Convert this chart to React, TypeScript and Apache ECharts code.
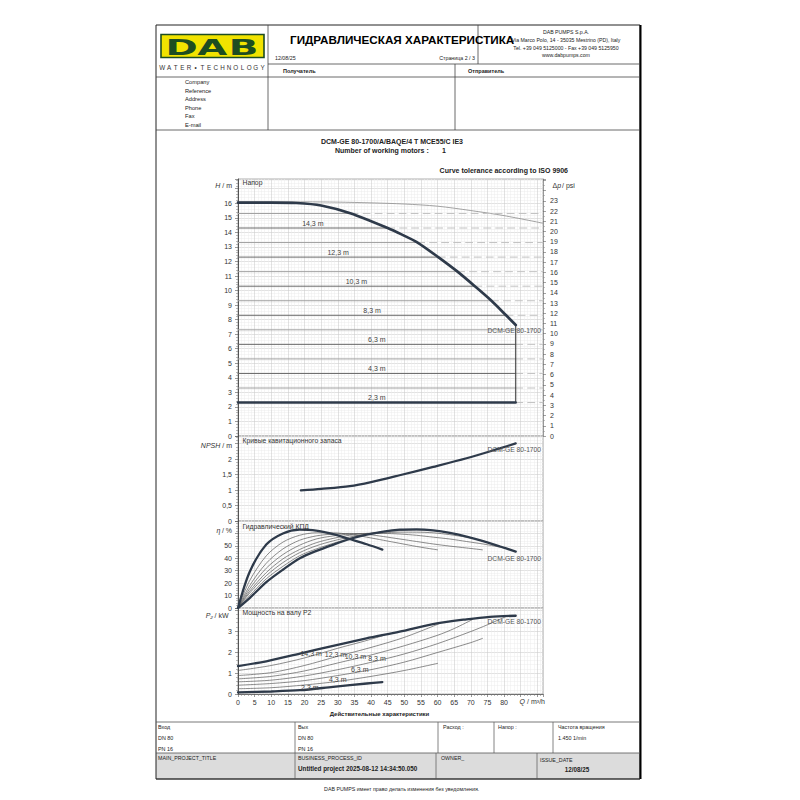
import React, { useEffect, useRef } from "react";
import * as echarts from "echarts";

// ---------------- data ----------------
// Constant-pressure set points (m) and the flow where each meets the pump limit
const levels = [15.3, 14.3, 13.3, 12.3, 11.3, 10.3, 9.3, 8.3, 7.3, 6.3, 5.3, 4.3, 3.3, 2.3];
const levelEndQ = [34, 45, 54, 60.2, 66, 71.2, 76.2, 80.6, 83.5, 83.5, 83.5, 83.5, 83.5, 83.5];
const labelledLevels = [14.3, 12.3, 10.3, 8.3, 6.3, 4.3, 2.3];

// Max-speed head curve
const headQ = [0, 10, 17.5, 25, 34, 45, 49, 54, 60.2, 66, 71.2, 76.2, 80.6, 83.5];
const headH = [16.05, 16.05, 16.02, 15.85, 15.3, 14.3, 13.88, 13.3, 12.3, 11.3, 10.3, 9.3, 8.3, 7.63];
const minHead = 2.3;
// Thin reference head curve
const refQ = [0, 20, 30, 40, 50, 60, 70, 80, 91.7];
const refH = [16.1, 16.1, 16.08, 16.03, 15.95, 15.8, 15.5, 15.15, 14.63];

// NPSH
const npshQ = [18.9, 25, 33.6, 40, 48.6, 58.7, 68.7, 78.7, 83.5];
const npshV = [0.99, 1.04, 1.13, 1.26, 1.48, 1.75, 2.03, 2.35, 2.51];

// Efficiency (%)
const effMaxQ = [0, 3.5, 8.6, 13.6, 18.6, 23.6, 28.7, 33.7, 38.7, 43.7, 48.7, 53.7, 58.7, 63.7, 68.7, 73.7, 78.8, 83.5];
const effMax = [0, 8, 21, 31, 40, 46, 51, 55.5, 59, 61.5, 63, 63.3, 62.5, 60.5, 57.5, 53.8, 49.5, 45.4];
const effMinQ = [0, 3.5, 8.5, 13.5, 18.5, 23.5, 28.6, 33.5, 38.7, 43.4];
const effMin = [0, 29, 51, 60, 63, 62.3, 59.4, 55.5, 51.3, 47];
const eff4Q = [0, 3.5, 8.5, 13.5, 18.5, 23.5, 28.6, 33.5, 38.7, 43.7, 48.7, 53.7, 58.7, 60];
const eff4 = [0, 22, 42, 53, 58.5, 60.5, 60.5, 59.3, 57, 54.5, 52, 49.5, 47.3, 46.8];
const eff6Q = [0, 3.5, 8.5, 13.5, 18.5, 23.5, 28.6, 33.5, 38.7, 43.7, 48.7, 53.7, 58.7, 63.7, 68.7, 73.5];
const eff6 = [0, 18, 36, 47.5, 54.5, 58, 59.5, 60, 59.3, 57.5, 55.5, 53.5, 51.5, 49.8, 48.3, 46.8];
const eff8Q = [0, 3.5, 8.5, 13.5, 18.5, 23.5, 28.6, 33.5, 38.7, 43.7, 48.7, 53.7, 58.7, 63.7, 68.7, 73.7, 78.8, 80.7];
const eff8 = [0, 15.5, 32, 43, 50.5, 55.5, 58, 59.5, 60, 60, 59.5, 58.5, 57, 55.5, 53.5, 51.5, 49, 48];
const eff10Q = [0, 3.5, 8.5, 13.5, 18.5, 23.5, 28.6, 33.5, 38.7, 43.7, 48.7, 53.7, 58.7, 63.7, 68.7, 70.5];
const eff10 = [0, 13.5, 28.5, 39.5, 47, 52.5, 56, 58.5, 60, 60.5, 61, 61, 60.5, 59, 57, 56.2];
const eff12Q = [0, 3.5, 8.5, 13.5, 18.5, 23.5, 28.6, 33.5, 38.7, 43.7, 48.7, 53.7, 58.7, 60.5];
const eff12 = [0, 12, 26, 36.5, 44.5, 50, 54, 57, 59.5, 61.2, 62.3, 62.8, 62.3, 62];
const eff14Q = [0, 3.5, 8.5, 13.5, 18.5, 23.5, 28.6, 33.5, 38.7, 44];
const eff14 = [0, 10, 23.5, 33.5, 42, 47.5, 52, 56, 59.3, 61.5];

// Shaft power P2 (kW)
const powMaxQ = [0, 8.5, 18.6, 28.6, 38.6, 48.6, 58.6, 68.7, 75.7, 83.5];
const powMax = [1.33, 1.56, 1.93, 2.3, 2.65, 2.97, 3.33, 3.56, 3.68, 3.73];
const powMinQ = [0, 10, 18.6, 28.6, 38.7, 43.4];
const powMin = [0.08, 0.12, 0.18, 0.34, 0.5, 0.57];
const pow4Q = [0, 10, 20, 30, 40, 50, 60];
const pow4 = [0.25, 0.3, 0.43, 0.6, 0.84, 1.12, 1.46];
const pow6Q = [0, 10, 20, 30, 40, 50, 60, 70, 73.5];
const pow6 = [0.42, 0.5, 0.64, 0.88, 1.16, 1.52, 1.98, 2.45, 2.65];
const pow8Q = [0, 10, 20, 30, 40, 50, 60, 70, 75, 80.7];
const pow8 = [0.58, 0.66, 0.86, 1.16, 1.51, 1.91, 2.4, 2.98, 3.3, 3.7];
const pow10Q = [0, 10, 20, 30, 40, 50, 60, 65, 70.5];
const pow10 = [0.72, 0.84, 1.1, 1.48, 1.86, 2.3, 2.8, 3.12, 3.55];
const pow12Q = [0, 10, 20, 30, 40, 50, 60.5];
const pow12 = [0.88, 1.02, 1.36, 1.8, 2.22, 2.7, 3.35];
const pow14Q = [0, 10, 20, 30, 38, 44];
const pow14 = [1.12, 1.36, 1.72, 2.18, 2.52, 2.8];
// Where the set-point labels sit along the power curves (Q)
const powLabelQ = [22, 29.3, 35.3, 41.8, 36.6, 30, 21.6];

// Axis ranges
const qMax = 91.7;
const hMax = 17.67;
const psiMax = 25.13;
const npshMax = 2.75;
const effAxisMax = 70;
const powAxisMax = 4.1;

// ---------------- helpers ----------------
const FF = "'Liberation Sans', Arial, sans-serif";
const DARK = "#2e3a4a";
const LABEL_GREY = "#444444";
const zip = (a: number[], b: number[]) => a.map((x, i) => [x, b[i]]);
const fmt = (v: number) => String(Math.round(v * 100) / 100).replace(".", ",");
function interp(xs: number[], ys: number[], x: number) {
  for (let i = 1; i < xs.length; i++) {
    if (x <= xs[i]) {
      const t = (x - xs[i - 1]) / (xs[i] - xs[i - 1]);
      return ys[i - 1] + t * (ys[i] - ys[i - 1]);
    }
  }
  return ys[ys.length - 1];
}

function T(text: string, x: number, y: number, o: any = {}) {
  const size = o.size ?? 5.5;
  const font = `${o.italic ? "italic " : ""}${o.bold ? "bold " : ""}${size}px ${FF}`;
  return {
    type: "text",
    x,
    y,
    silent: true,
    scaleX: o.scaleX ?? 1,
    z: o.z ?? 10,
    style: {
      text,
      font,
      fill: o.color ?? "#222",
      textAlign: o.align ?? "left",
      textVerticalAlign: "middle",
    },
  };
}
function L(x1: number, y1: number, x2: number, y2: number, color = "#444", w = 0.8) {
  return { type: "line", silent: true, z: 5, shape: { x1, y1, x2, y2 }, style: { stroke: color, lineWidth: w } };
}

function lineSeries(xi: number, yi: number, data: number[][], color: string, width: number, extra: any = {}) {
  return {
    type: "line",
    xAxisIndex: xi,
    yAxisIndex: yi,
    data,
    symbol: "none",
    silent: true,
    smooth: extra.smooth ?? 0.3,
    z: extra.z ?? 3,
    lineStyle: { color, width, type: extra.dash ?? "solid", cap: "round" },
  };
}

function labelSeries(xi: number, yi: number, data: any[], dy: number) {
  return {
    type: "scatter",
    xAxisIndex: xi,
    yAxisIndex: yi,
    symbolSize: 0.1,
    silent: true,
    color: LABEL_GREY,
    itemStyle: { color: LABEL_GREY, opacity: 0 },
    z: 8,
    data,
    label: {
      show: true,
      position: "top",
      distance: 0,
      offset: [0, dy],
      fontFamily: FF,
      fontSize: 7,
      color: LABEL_GREY,
      opacity: 1,
      formatter: (p: any) => p.name,
    },
  };
}

function buildOption() {
  const gridBase = { left: 238, width: 305, show: true, borderColor: "#9a9a9a", borderWidth: 0.8 };
  const grid = [
    { ...gridBase, top: 179, height: 257 },
    { ...gridBase, top: 436, height: 85 },
    { ...gridBase, top: 521, height: 87 },
    { ...gridBase, top: 608, height: 86 },
  ];
  const axisFont = { fontFamily: FF, fontSize: 7, color: "#333" };
  const xAxis = grid.map((_, i) => ({
    gridIndex: i,
    type: "value",
    min: 0,
    max: qMax,
    interval: 5,
    axisLine: { show: i === 3, lineStyle: { color: "#555", width: 0.8 } },
    axisTick: { show: i === 3, length: 3, lineStyle: { color: "#555", width: 0.6 } },
    minorTick: { show: i === 3, splitNumber: 5, length: 2, lineStyle: { color: "#777", width: 0.5 } },
    axisLabel: { show: i === 3, ...axisFont, margin: 5, formatter: (v: number) => (v <= 80 ? String(v) : "") },
    splitLine: { show: true, lineStyle: { color: "#cfcfcf", width: 0.6 } },
    minorSplitLine: { show: true, lineStyle: { color: "#ececec", width: 0.5 } },
  }));
  const yBase = (gi: number, max: number, interval: number, limit: number, minorSplit: number) => ({
    gridIndex: gi,
    type: "value",
    min: 0,
    max,
    interval,
    axisLine: { show: true, lineStyle: { color: "#444", width: 0.9 } },
    axisTick: { show: true, length: 3, lineStyle: { color: "#555", width: 0.6 } },
    minorTick: { show: true, splitNumber: minorSplit, length: 2, lineStyle: { color: "#777", width: 0.5 } },
    axisLabel: { ...axisFont, margin: 6, formatter: (v: number) => (v <= limit + 1e-6 ? fmt(v) : "") },
    splitLine: { show: true, lineStyle: { color: "#cfcfcf", width: 0.6 } },
    minorSplitLine: { show: true, lineStyle: { color: "#ececec", width: 0.5 } },
  });
  const yAxis: any[] = [
    yBase(0, hMax, 1, 16, 5),
    {
      gridIndex: 0,
      type: "value",
      position: "right",
      min: 0,
      max: psiMax,
      interval: 1,
      axisLine: { show: true, lineStyle: { color: "#888", width: 0.8 } },
      axisTick: { show: true, length: 3, lineStyle: { color: "#666", width: 0.6 } },
      minorTick: { show: true, splitNumber: 2, length: 2, lineStyle: { color: "#888", width: 0.5 } },
      axisLabel: { ...axisFont, margin: 7, formatter: (v: number) => (v <= 23.001 ? String(v) : "") },
      splitLine: { show: false },
    },
    yBase(1, npshMax, 0.5, 2, 5),
    yBase(2, effAxisMax, 10, 50, 5),
    yBase(3, powAxisMax, 1, 3, 5),
  ];

  const series: any[] = [];
  // --- head panel ---
  series.push(lineSeries(0, 0, zip(refQ, refH), "#8c8c8c", 0.8));
  levels.forEach((l, i) => {
    const labelled = labelledLevels.indexOf(l) >= 0;
    const isMin = l === minHead;
    series.push(
      lineSeries(0, 0, [[0, l], [levelEndQ[i], l]], isMin ? DARK : labelled ? "#6a6a6a" : "#a0a0a0", isMin ? 2.4 : 1, {
        smooth: false,
        z: isMin ? 6 : 3,
      })
    );
    series.push(lineSeries(0, 0, [[levelEndQ[i], l], [qMax, l]], "#c2c2c2", 1, { smooth: false, dash: [7, 5] }));
  });
  series.push(lineSeries(0, 0, zip(headQ, headH), DARK, 2.7, { smooth: 0.25, z: 6 }));
  const lastQ = headQ[headQ.length - 1];
  series.push(
    lineSeries(0, 0, [[lastQ, headH[headH.length - 1]], [lastQ, minHead]], "#3c3c3c", 1.1, { smooth: false, z: 5 })
  );
  series.push(
    labelSeries(
      0,
      0,
      labelledLevels.map((l) => {
        const i = levels.indexOf(l);
        return { name: fmt(l) + " m", value: [levelEndQ[i] / 2, l] };
      }),
      -1
    )
  );

  // --- NPSH ---
  series.push(lineSeries(1, 2, zip(npshQ, npshV), DARK, 2.2, { z: 6 }));

  // --- efficiency ---
  const effThin: [number[], number[]][] = [
    [eff4Q, eff4],
    [eff6Q, eff6],
    [eff8Q, eff8],
    [eff10Q, eff10],
    [eff12Q, eff12],
    [eff14Q, eff14],
  ];
  effThin.forEach(([q, v]) => series.push(lineSeries(2, 3, zip(q, v), "#5a5a5a", 0.7)));
  series.push(lineSeries(2, 3, zip(effMinQ, effMin), DARK, 2.3, { z: 6 }));
  series.push(lineSeries(2, 3, zip(effMaxQ, effMax), DARK, 2.3, { z: 6 }));

  // --- power ---
  const powCurves: Record<string, [number[], number[]]> = {
    "14.3": [pow14Q, pow14],
    "12.3": [pow12Q, pow12],
    "10.3": [pow10Q, pow10],
    "8.3": [pow8Q, pow8],
    "6.3": [pow6Q, pow6],
    "4.3": [pow4Q, pow4],
    "2.3": [powMinQ, powMin],
  };
  ["14.3", "12.3", "10.3", "8.3", "6.3", "4.3"].forEach((k) =>
    series.push(lineSeries(3, 4, zip(powCurves[k][0], powCurves[k][1]), "#5a5a5a", 0.7))
  );
  series.push(lineSeries(3, 4, zip(powMinQ, powMin), DARK, 2.3, { z: 6 }));
  series.push(lineSeries(3, 4, zip(powMaxQ, powMax), DARK, 2.3, { z: 6 }));
  series.push(
    labelSeries(
      3,
      4,
      labelledLevels.map((l, i) => {
        const [q, v] = powCurves[String(l)];
        return { name: fmt(l) + " m", value: [powLabelQ[i], interp(q, v, powLabelQ[i])] };
      }),
      1.5
    )
  );

  // ---------------- page furniture ----------------
  const g: any[] = [];
  g.push({ type: "rect", silent: true, z: 1, shape: { x: 156, y: 753, width: 484, height: 26 }, style: { fill: "#dcdcdc" } });
  g.push({ type: "rect", silent: true, z: 5, shape: { x: 156, y: 25, width: 484, height: 754 }, style: { fill: "none", stroke: "#222", lineWidth: 1 } });
  g.push(L(640.5, 25, 640.5, 779, "#000", 2));
  g.push(L(268, 25, 268, 130));
  g.push(L(478, 25, 478, 64));
  g.push(L(268, 64, 640, 64));
  g.push(L(156, 77, 640, 77));
  g.push(L(455, 64, 455, 130));
  g.push(L(156, 130, 640, 130));
  g.push(L(156, 722, 640, 722, "#555"));
  [295, 438, 494, 553].forEach((x) => g.push(L(x, 722, x, 753, "#666")));
  g.push(L(156, 753, 640, 753, "#555"));
  [295, 436, 537].forEach((x) => g.push(L(x, 753, x, 779, "#666")));
  g.push(L(156, 779, 640, 779, "#333"));

  // logo
  g.push({ type: "rect", silent: true, z: 6, shape: { x: 161, y: 34.5, width: 103, height: 23 }, style: { fill: "#f1e300", stroke: "#1d4d21", lineWidth: 1.6 } });
  const logoFont = "bold 21px 'DejaVu Sans', sans-serif";
  [["D", 181.5], ["A", 212.3], ["B", 243.6]].forEach(([ch, x]) =>
    g.push({
      type: "text",
      x: x as number,
      y: 47.5,
      scaleX: 1.85,
      silent: true,
      z: 7,
      style: { text: ch as string, font: logoFont, fill: "#1d4d21", textAlign: "center", textVerticalAlign: "middle" },
    })
  );
  "WATER•TECHNOLOGY".split("").forEach((ch, i) =>
    g.push(T(ch, 162.3 + i * 6.68, 67.5, { size: 6.3, color: "#333", align: "center" }))
  );

  // header texts
  g.push(T("DAB PUMPS S.p.A.", 566, 32.3, { size: 5.2, align: "center" }));
  g.push(T("Via Marco Polo, 14 - 35035 Mestrino (PD), Italy", 566, 40, { size: 5.2, align: "center" }));
  g.push(T("Tel. +39 049 5125000 - Fax +39 049 5125950", 566, 47.5, { size: 5.2, align: "center" }));
  g.push(T("www.dabpumps.com", 566, 54.7, { size: 5.2, align: "center" }));
  g.push(T("ГИДРАВЛИЧЕСКАЯ ХАРАКТЕРИСТИКА", 290, 39, { size: 11.7, bold: true, color: "#000", z: 12 }));
  g.push(T("12/08/25", 275, 58.3, { size: 5.3 }));
  g.push(T("Страница 2 / 3", 475, 58.3, { size: 5.3, align: "right" }));
  g.push(T("Получатель", 283, 70.7, { size: 5.5, bold: true }));
  g.push(T("Отправитель", 468, 70.7, { size: 5.5, bold: true }));
  [["Company", 82.3], ["Reference", 90.7], ["Address", 99], ["Phone", 108], ["Fax", 116.3], ["E-mail", 124.7]].forEach(
    ([t, y]) => g.push(T(t as string, 185, y as number, { size: 5.7 }))
  );

  // chart titles
  g.push(T("DCM-GE 80-1700/A/BAQE/4 T MCE55/C IE3", 392, 141.7, { size: 7, bold: true, align: "center" }));
  g.push(T("Number of working motors :", 335, 150.7, { size: 7, bold: true }));
  g.push(T("1", 442, 150.7, { size: 7, bold: true }));
  g.push(T("Curve tolerance according to ISO 9906", 568, 170.3, { size: 7, bold: true, align: "right" }));

  // panel titles
  g.push(T("Напор", 242.5, 182.5, { size: 6.8, color: "#333" }));
  g.push(T("Кривые кавитационного запаса", 242.5, 440.3, { size: 6.8, color: "#333" }));
  g.push(T("Гидравлический КПД", 242.5, 526.5, { size: 6.8, color: "#333" }));
  g.push(T("Мощность на валу P2", 242.5, 612.7, { size: 6.8, color: "#333" }));
  [330.7, 449.3, 558.3, 621.7].forEach((y) => g.push(T("DCM-GE 80-1700", 487.5, y, { size: 6.7, color: "#555" })));

  // axis names
  g.push(T("H", 220.3, 185, { size: 7, italic: true, align: "right", color: "#333" }));
  g.push(T("/ m", 232, 185, { size: 7, align: "right", color: "#333" }));
  g.push(T("NPSH", 220.3, 445, { size: 7, italic: true, align: "right", color: "#333" }));
  g.push(T("/ m", 232, 445, { size: 7, align: "right", color: "#333" }));
  g.push(T("η", 220.5, 530, { size: 7, italic: true, align: "right", color: "#333" }));
  g.push(T("/ %", 232, 530, { size: 7, align: "right", color: "#333" }));
  g.push(T("P₂", 213, 615, { size: 7, italic: true, align: "right", color: "#333" }));
  g.push(T("/ kW", 228.5, 615, { size: 7, align: "right", color: "#333" }));
  g.push(T("Δ", 552.5, 185, { size: 7, color: "#333" }));
  g.push(T("p", 557.3, 185, { size: 7, italic: true, color: "#333" }));
  g.push(T("/ psi", 562, 185, { size: 7, color: "#333" }));
  g.push(T("Q", 525, 701, { size: 7, italic: true, align: "right", color: "#333" }));
  g.push(T("/ m³/h", 545, 701, { size: 7, align: "right", color: "#333" }));
  g.push(T("Действительные характеристики", 379.5, 714.3, { size: 6, bold: true, align: "center" }));

  // footer
  g.push(T("Вход", 158, 727, { size: 5.4 }));
  g.push(T("DN 80", 158, 738.3, { size: 5.4 }));
  g.push(T("PN 16", 158, 749.3, { size: 5.4 }));
  g.push(T("Вых", 298, 727, { size: 5.4 }));
  g.push(T("DN 80", 298, 738.3, { size: 5.4 }));
  g.push(T("PN 16", 298, 749.3, { size: 5.4 }));
  g.push(T("Расход :", 443, 727, { size: 5.4 }));
  g.push(T("Напор :", 498, 727, { size: 5.4 }));
  g.push(T("Частота вращения", 558, 727, { size: 5.4 }));
  g.push(T("1.450 1/min", 558, 738, { size: 5.4 }));
  g.push(T("MAIN_PROJECT_TITLE", 158, 757.7, { size: 5.3 }));
  g.push(T("BUSINESS_PROCESS_ID", 298, 757.7, { size: 5.3 }));
  g.push(T("Untitled project 2025-08-12 14:34:50.050", 298, 768.7, { size: 6.3, bold: true }));
  g.push(T("OWNER_", 441, 757.7, { size: 5.3 }));
  g.push(T("ISSUE_DATE", 540, 760, { size: 5.3 }));
  g.push(T("12/08/25", 577, 769, { size: 6.3, bold: true, align: "center" }));
  g.push(T("DAB PUMPS имеет право делать изменения без уведомления.", 401.7, 789.3, { size: 5.3, align: "center" }));

  return {
    animation: false,
    color: [LABEL_GREY],
    backgroundColor: "#ffffff",
    grid,
    xAxis,
    yAxis,
    series,
    graphic: { elements: g },
  };
}

export default function App() {
  const ref = useRef<HTMLDivElement>(null);
  useEffect(() => {
    if (!ref.current) return;
    const chart = echarts.init(ref.current, undefined, { renderer: "svg" });
    chart.setOption(buildOption() as any);
    return () => chart.dispose();
  }, []);
  return (
    <div style={{ position: "absolute", left: 0, top: 0, width: 800, height: 800, background: "#fff" }}>
      <div ref={ref} style={{ width: 800, height: 800 }} />
    </div>
  );
}
